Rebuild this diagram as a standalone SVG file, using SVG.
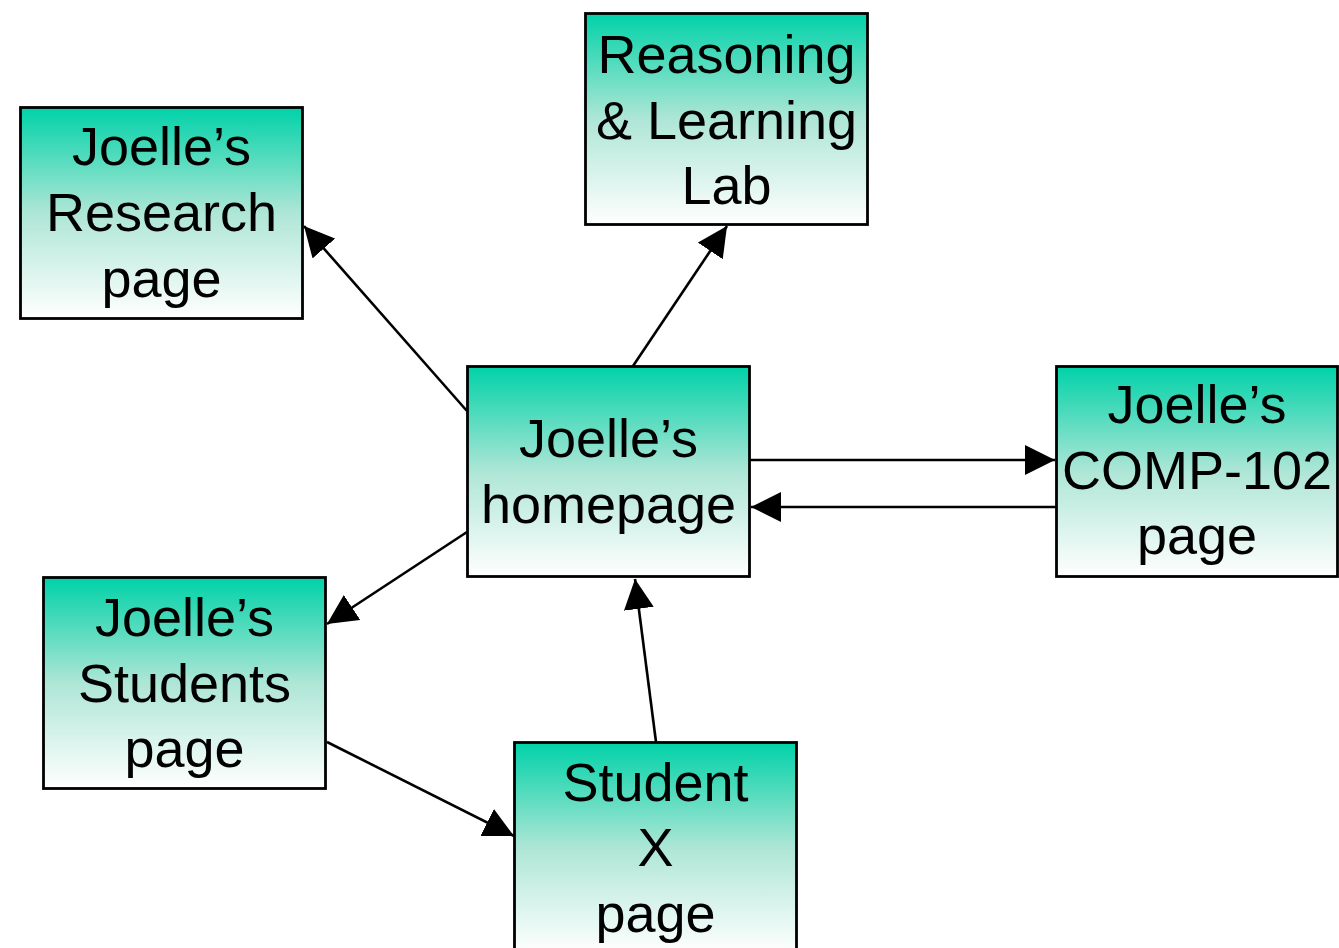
<svg xmlns="http://www.w3.org/2000/svg" width="1339" height="948" viewBox="0 0 1339 948">
  <style>
    .box { stroke: #000; stroke-width: 2.8; fill: url(#tealFade); }
    .lbl { font-family: "Liberation Sans", Arial, sans-serif; font-size: 54px; fill: #000; text-anchor: middle; }
    .link { stroke: #000; stroke-width: 2.6; fill: none; marker-end: url(#head); }
  </style>
  <defs>
    <linearGradient id="tealFade" x1="0" y1="0" x2="0" y2="1">
      <stop offset="0" stop-color="#00D2A8"/>
      <stop offset="0.5" stop-color="#AEE6D6"/>
      <stop offset="1" stop-color="#FFFFFF"/>
    </linearGradient>
    <marker id="head" markerUnits="userSpaceOnUse" markerWidth="30" markerHeight="30" refX="30" refY="15" orient="auto">
      <path d="M0,0 L30,15 L0,30 Z" fill="#000"/>
    </marker>
  </defs>
  <rect width="1339" height="948" fill="#fff"/>

  <g id="connectors">
    <line class="link" x1="467" y1="411" x2="304" y2="226"/>
    <line class="link" x1="633" y1="366" x2="727" y2="226"/>
    <line class="link" x1="750" y1="460" x2="1055" y2="460"/>
    <line class="link" x1="1056" y1="507" x2="751" y2="507"/>
    <line class="link" x1="467" y1="532" x2="327" y2="624"/>
    <line class="link" x1="327" y1="742" x2="514" y2="836"/>
    <line class="link" x1="656" y1="742" x2="635" y2="579"/>
  </g>

  <g id="research">
    <rect class="box" x="20.5" y="107.5" width="282" height="211"/>
    <text class="lbl" x="161.5" y="165">Joelle’s</text>
    <text class="lbl" x="161.5" y="231">Research</text>
    <text class="lbl" x="161.5" y="297">page</text>
  </g>

  <g id="lab">
    <rect class="box" x="585.5" y="13.5" width="282" height="211"/>
    <text class="lbl" x="726.5" y="73">Reasoning</text>
    <text class="lbl" x="726.5" y="139">&amp; Learning</text>
    <text class="lbl" x="726.5" y="204">Lab</text>
  </g>

  <g id="homepage">
    <rect class="box" x="467.5" y="366.5" width="282" height="210"/>
    <text class="lbl" x="608.5" y="457">Joelle’s</text>
    <text class="lbl" x="608.5" y="523">homepage</text>
  </g>

  <g id="comp102">
    <rect class="box" x="1056.5" y="366.5" width="281" height="210"/>
    <text class="lbl" x="1197" y="423">Joelle’s</text>
    <text class="lbl" x="1197" y="489">COMP-102</text>
    <text class="lbl" x="1197" y="554">page</text>
  </g>

  <g id="students">
    <rect class="box" x="43.5" y="577.5" width="282" height="211"/>
    <text class="lbl" x="184.5" y="636">Joelle’s</text>
    <text class="lbl" x="184.5" y="702">Students</text>
    <text class="lbl" x="184.5" y="767">page</text>
  </g>

  <g id="studentX">
    <rect class="box" x="514.5" y="742.5" width="282" height="211"/>
    <text class="lbl" x="655.5" y="801">Student</text>
    <text class="lbl" x="655.5" y="866">X</text>
    <text class="lbl" x="655.5" y="932">page</text>
  </g>
</svg>
